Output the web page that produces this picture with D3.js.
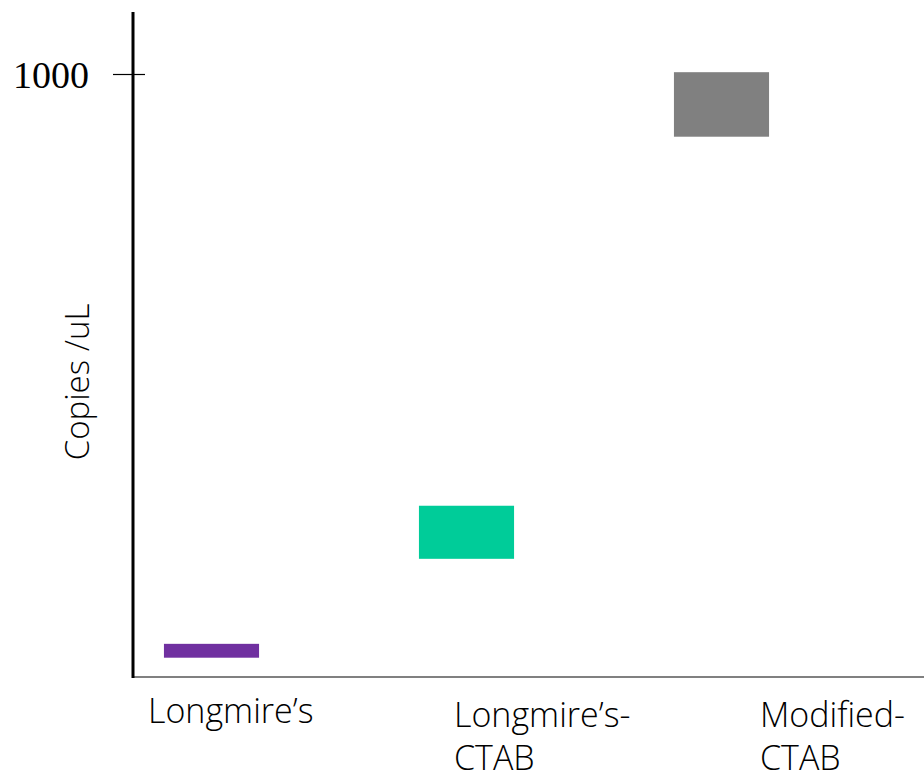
<!DOCTYPE html>
<html><head><meta charset="utf-8">
<script src="https://cdn.jsdelivr.net/npm/d3@7"></script>
<style>body{margin:0;background:#fff;} svg{display:block;}</style>
</head><body>
<svg id="c" width="924" height="781"></svg>
<script>
const categories = ["Longmire's", "Longmire's-CTAB", "Modified-CTAB"];
const labelLines = [["Longmire\u2019s"], ["Longmire\u2019s-", "CTAB"], ["Modified-", "CTAB"]];
const lowValues = [32, 196, 896];
const highValues = [55, 284, 1003];
const colors = ["#7030A0", "#00CC99", "#808080"];
const yTicks = [1000];

const svg = d3.select("#c");
const y = d3.scaleLinear().domain([0, 1000]).range([677, 74]);
const x = d3.scaleBand().domain(categories).range([84, 849]).paddingInner(0.627).paddingOuter(0.3135);
const xl = d3.scalePoint().domain(categories).range([148, 760]);

// bars
svg.selectAll("rect.bar").data(categories).join("rect")
  .attr("x", d => x(d))
  .attr("width", x.bandwidth())
  .attr("y", (d, i) => y(highValues[i]))
  .attr("height", (d, i) => y(lowValues[i]) - y(highValues[i]))
  .attr("fill", (d, i) => colors[i]);

// x axis line
svg.append("line").attr("x1", 132).attr("x2", 924).attr("y1", 677).attr("y2", 677)
  .attr("stroke", "#808080").attr("stroke-width", 2);
// y axis line
svg.append("line").attr("x1", 133).attr("x2", 133).attr("y1", 12).attr("y2", 678)
  .attr("stroke", "#000").attr("stroke-width", 3);

// y ticks
const yAxis = d3.axisLeft(y).tickValues(yTicks).tickSize(0).tickFormat(d3.format("d"));
const g = svg.append("g").attr("transform", "translate(133,0)").call(yAxis);
g.select(".domain").remove();
g.selectAll(".tick line").attr("x1", -20).attr("x2", 12).attr("stroke", "#000").attr("stroke-width", 1.2);
g.selectAll(".tick text").attr("x", -44).attr("dy", "0.35em")
  .style("font-family", "'Liberation Serif','Times New Roman',serif").style("font-size", "38px").attr("fill", "#000");

// category labels
const labels = svg.selectAll("text.cat").data(categories).join("text")
  .attr("class", "cat")
  .attr("x", d => xl(d))
  .attr("y", (d, i) => i === 0 ? 723 : 727)
  .style("font-family", "'Open Sans', sans-serif").style("font-weight", 300).style("font-size", "34px").attr("fill", "#000");
labels.each(function(d, i) {
  const t = d3.select(this);
  labelLines[i].forEach((ln, j) => {
    t.append("tspan").attr("x", xl(d)).attr("dy", j === 0 ? 0 : 43).text(ln);
  });
});

// y label
svg.append("text").attr("transform", "translate(89,382) rotate(-90)")
  .attr("text-anchor", "middle")
  .style("font-family", "'Open Sans', sans-serif").style("font-weight", 300).style("font-size", "33px")
  .text("Copies /uL");
</script>
</body></html>
